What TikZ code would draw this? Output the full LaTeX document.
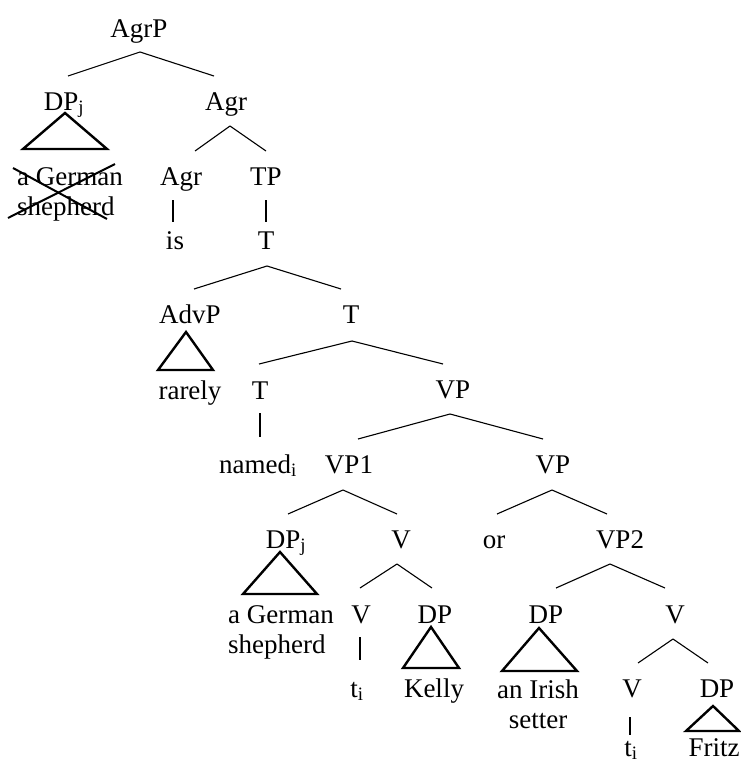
\documentclass[tikz,border=0pt]{standalone}
\usepackage{fontspec}
\setmainfont{Liberation Serif}
\usetikzlibrary{calc}

\begin{document}
\begin{tikzpicture}[
    x=1pt, y=-1pt,
    every node/.style={font=\fontsize{27}{30}\selectfont, inner sep=0pt, anchor=base},
    branch/.style={black, line width=1.1pt},
    roof/.style={black, line width=2.4pt, line join=miter},
    strike/.style={black, line width=2pt}
  ]
    \useasboundingbox (0,0) rectangle (741,763);

    \node (agrp) at (139,37) {AgrP};

    \node (dpj) at (64,110) {DP\textsubscript{j}};
    \node (agr) at (226,110) {Agr};

    \node[anchor=base west, align=left] (germa) at (17,215) {a German\\shepherd};
    \node (agrhd) at (181,185) {Agr};
    \node (tp) at (266,185) {TP};

    \node (is) at (175,249) {is};
    \node (tbar) at (266,249) {T};

    \node (advp) at (190,323) {AdvP};
    \node (tmid) at (351,323) {T};

    \node (rarely) at (190,399) {rarely};
    \node (thd) at (260,399) {T};
    \node (vp) at (453,398) {VP};

    \node (named) at (258,473) {named\textsubscript{i}};
    \node (vpone) at (349,473) {VP1};
    \node (vpor) at (553,473) {VP};

    \node (dpjb) at (286,548) {DP\textsubscript{j}};
    \node (vone) at (401,548) {V};
    \node (or) at (494,548) {or};
    \node (vptwo) at (620,548) {VP2};

    \node[anchor=base west, align=left] (germb) at (228,653) {a German\\shepherd};
    \node (vonehd) at (361,623) {V};
    \node (dpk) at (435,623) {DP};
    \node (dpi) at (546,623) {DP};
    \node (vtwo) at (675,623) {V};

    \node (tone) at (357,697) {t\textsubscript{i}};
    \node (kelly) at (434,697) {Kelly};
    \node[align=center] (irish) at (538,728) {an Irish\\setter};
    \node (vtwohd) at (632,697) {V};
    \node (dpf) at (717,697) {DP};

    \node (ttwo) at (631,756) {t\textsubscript{i}};
    \node (fritz) at (714,756) {Fritz};

    % Branches
    \draw[branch] ($(agrp.base)+(1,15)$) -- ($(dpj.base)+(4,-34)$);
    \draw[branch] ($(agrp.base)+(1,15)$) -- ($(agr.base)+(-12,-34)$);
    \draw[branch] ($(agr.base)+(4,16)$) -- ($(agrhd.base)+(14,-34)$);
    \draw[branch] ($(agr.base)+(4,16)$) -- ($(tp.base)+(0,-34)$);
    \draw[branch] ($(agrhd.base)+(-8,15)$) -- ($(is.base)+(-2,-27)$);
    \draw[branch] ($(tp.base)+(0,15)$) -- ($(tbar.base)+(0,-27)$);
    \draw[branch] ($(tbar.base)+(1,17)$) -- ($(advp.base)+(4,-34)$);
    \draw[branch] ($(tbar.base)+(1,17)$) -- ($(tmid.base)+(-10,-34)$);
    \draw[branch] ($(tmid.base)+(1,18)$) -- ($(thd.base)+(-1,-35)$);
    \draw[branch] ($(tmid.base)+(1,18)$) -- ($(vp.base)+(-10,-34)$);
    \draw[branch] ($(thd.base)+(0,14)$) -- ($(named.base)+(2,-36)$);
    \draw[branch] ($(vp.base)+(-3,16)$) -- ($(vpone.base)+(9,-34)$);
    \draw[branch] ($(vp.base)+(-3,16)$) -- ($(vpor.base)+(-10,-34)$);
    \draw[branch] ($(vpone.base)+(-6,17)$) -- ($(dpjb.base)+(2,-34)$);
    \draw[branch] ($(vpone.base)+(-6,17)$) -- ($(vone.base)+(-4,-34)$);
    \draw[branch] ($(vpor.base)+(-1,17)$) -- ($(or.base)+(3,-34)$);
    \draw[branch] ($(vpor.base)+(-1,17)$) -- ($(vptwo.base)+(-13,-34)$);
    \draw[branch] ($(vone.base)+(-4,16)$) -- ($(vonehd.base)+(-1,-35)$);
    \draw[branch] ($(vone.base)+(-4,16)$) -- ($(dpk.base)+(-3,-35)$);
    \draw[branch] ($(vonehd.base)+(-1,14)$) -- ($(tone.base)+(3,-37)$);
    \draw[branch] ($(vptwo.base)+(-10,16)$) -- ($(dpi.base)+(10,-35)$);
    \draw[branch] ($(vptwo.base)+(-10,16)$) -- ($(vtwo.base)+(-10,-35)$);
    \draw[branch] ($(vtwo.base)+(-2,16)$) -- ($(vtwohd.base)+(6,-34)$);
    \draw[branch] ($(vtwo.base)+(-2,16)$) -- ($(dpf.base)+(-9,-34)$);
    \draw[branch] ($(vtwohd.base)+(-2,20)$) -- ($(ttwo.base)+(-1,-21)$);

    % Triangles
    \draw[roof] ($(dpj.base)+(1,3)$) -- ($(dpj.base)+(-41,39)$) -- ($(dpj.base)+(43,39)$) -- cycle;
    \draw[roof] ($(advp.base)+(-4,9)$) -- ($(advp.base)+(-32,47)$) -- ($(advp.base)+(23,47)$) -- cycle;
    \draw[roof] ($(dpjb.base)+(-6,4)$) -- ($(dpjb.base)+(-43,46)$) -- ($(dpjb.base)+(31,46)$) -- cycle;
    \draw[roof] ($(dpk.base)+(-4,4)$) -- ($(dpk.base)+(-32,45)$) -- ($(dpk.base)+(24,45)$) -- cycle;
    \draw[roof] ($(dpi.base)+(-7,5)$) -- ($(dpi.base)+(-44,48)$) -- ($(dpi.base)+(31,48)$) -- cycle;
    \draw[roof] ($(dpf.base)+(-4,9)$) -- ($(dpf.base)+(-31,34)$) -- ($(dpf.base)+(22,34)$) -- cycle;

    % Crossed out copy
    \draw[strike] ($(germa.base west)+(-4,-47)$) -- ($(germa.base west)+(90,4)$);
    \draw[strike] ($(germa.base west)+(98,-51)$) -- ($(germa.base west)+(-9,3)$);
  \end{tikzpicture}
\end{document}
